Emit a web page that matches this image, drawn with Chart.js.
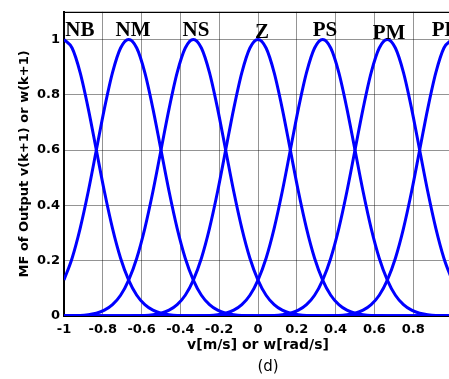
<!DOCTYPE html>
<html>
<head>
<meta charset="utf-8">
<script src="https://cdn.jsdelivr.net/npm/chart.js@4/dist/chart.umd.min.js"></script>
<style>
html,body{margin:0;padding:0;background:#fff;overflow:hidden;}
canvas{display:block;}
</style>
</head>
<body>
<canvas id="c" width="460" height="379"></canvas>
<script>
// x sample positions (v or w)
const xValues = [-1,-0.9583,-0.9167,-0.875,-0.8333,-0.7917,-0.75,-0.7083,-0.6667,-0.625,-0.5833,-0.5417,-0.5,-0.4583,-0.4167,-0.375,-0.3333,-0.2917,-0.25,-0.2083,-0.1667,-0.125,-0.0833,-0.0417,0,
  0.0417,0.0833,0.125,0.1667,0.2083,0.25,0.2917,0.3333,0.375,0.4167,0.4583,0.5,0.5417,0.5833,0.625,0.6667,0.7083,0.75,0.7917,0.8333,0.875,0.9167,0.9583,1];

// membership function values
const mfNB = [1,0.969,0.88,0.75,0.6,0.45,0.317,0.209,0.13,0.075,0.041,0.021,0.01,0.005,0.002,0.001,
  0,0,0,0,0,0,0,0,0,0,0,0,0,0,0,0,0,0,0,0,0,0,0,0,0,0,0,0,0,0,0,0,0];
const mfNM = [0.13,0.209,0.317,0.45,0.6,0.75,0.88,0.969,1,
  0.969,0.88,0.75,0.6,0.45,0.317,0.209,0.13,0.075,0.041,0.021,0.01,0.005,0.002,0.001,
  0,0,0,0,0,0,0,0,0,0,0,0,0,0,0,0,0,0,0,0,0,0,0,0,0];
const mfNS = [0,0.001,0.002,0.005,0.01,0.021,0.041,0.075,0.13,0.209,0.317,0.45,0.6,0.75,0.88,0.969,1,
  0.969,0.88,0.75,0.6,0.45,0.317,0.209,0.13,0.075,0.041,0.021,0.01,0.005,0.002,0.001,
  0,0,0,0,0,0,0,0,0,0,0,0,0,0,0,0,0];
const mfZ = [0,0,0,0,0,0,0,0,0,
  0.001,0.002,0.005,0.01,0.021,0.041,0.075,0.13,0.209,0.317,0.45,0.6,0.75,0.88,0.969,1,
  0.969,0.88,0.75,0.6,0.45,0.317,0.209,0.13,0.075,0.041,0.021,0.01,0.005,0.002,0.001,
  0,0,0,0,0,0,0,0,0];
const mfPS = [0,0,0,0,0,0,0,0,0,0,0,0,0,0,0,0,0,
  0.001,0.002,0.005,0.01,0.021,0.041,0.075,0.13,0.209,0.317,0.45,0.6,0.75,0.88,0.969,1,
  0.969,0.88,0.75,0.6,0.45,0.317,0.209,0.13,0.075,0.041,0.021,0.01,0.005,0.002,0.001,0];
const mfPM = [0,0,0,0,0,0,0,0,0,0,0,0,0,0,0,0,0,0,0,0,0,0,0,0,0,
  0.001,0.002,0.005,0.01,0.021,0.041,0.075,0.13,0.209,0.317,0.45,0.6,0.75,0.88,0.969,1,
  0.969,0.88,0.75,0.6,0.45,0.317,0.209,0.13];
const mfPB = [0,0,0,0,0,0,0,0,0,0,0,0,0,0,0,0,0,0,0,0,0,0,0,0,0,0,0,0,0,0,0,0,0,
  0.001,0.002,0.005,0.01,0.021,0.041,0.075,0.13,0.209,0.317,0.45,0.6,0.75,0.88,0.969,1];

const seriesNames = ['NB','NM','NS','Z','PS','PM','PB'];
const seriesValues = [mfNB, mfNM, mfNS, mfZ, mfPS, mfPM, mfPB];
// label anchor points (data coords)
const labelX = [-0.918, -0.644, -0.32, 0.02, 0.345, 0.675, 0.965];
const labelY = [1.014, 1.014, 1.014, 1.007, 1.014, 1.0, 1.014];

const datasets = seriesValues.map((vals, i) => ({
  label: seriesNames[i],
  data: vals.map((v, j) => ({x: xValues[j], y: v})),
  borderColor: '#0000ff',
  borderWidth: 3,
  pointRadius: 0,
  fill: false,
  cubicInterpolationMode: 'monotone'
}));

const labelsPlugin = {
  id: 'mfLabels',
  afterDraw(chart) {
    const {ctx, chartArea, scales} = chart;
    ctx.save();
    // top border
    ctx.strokeStyle = '#000';
    ctx.lineWidth = 1.2;
    ctx.beginPath();
    ctx.moveTo(chartArea.left, chartArea.top + 0.5);
    ctx.lineTo(chartArea.right, chartArea.top + 0.5);
    ctx.stroke();
    // MF names
    ctx.fillStyle = '#000';
    ctx.font = 'bold 21px "Liberation Serif", "Times New Roman", serif';
    ctx.textAlign = 'center';
    ctx.textBaseline = 'alphabetic';
    seriesNames.forEach((n, i) => {
      ctx.fillText(n, scales.x.getPixelForValue(labelX[i]), scales.y.getPixelForValue(labelY[i]));
    });
    // subfigure caption
    ctx.font = '15px "DejaVu Sans", sans-serif';
    ctx.textBaseline = 'middle';
    ctx.fillText('(d)', (chartArea.left + chartArea.right) / 2 + 10, chart.height - 12);
    ctx.restore();
  }
};

new Chart(document.getElementById('c'), {
  type: 'line',
  data: {datasets},
  plugins: [labelsPlugin],
  options: {
    responsive: false,
    devicePixelRatio: 1,
    animation: false,
    layout: {padding: {top: 9, right: 8, left: 0, bottom: 0}},
    plugins: {legend: {display: false}, tooltip: {enabled: false}},
    scales: {
      x: {
        type: 'linear',
        min: -1, max: 1,
        afterFit(s) { s.height = 63; },
        grid: {color: 'rgba(0,0,0,0.42)', lineWidth: 1, drawTicks: false},
        border: {display: true, color: '#000', width: 1},
        ticks: {
          stepSize: 0.2, padding: 6, color: '#000',
          font: {family: '"DejaVu Sans", sans-serif', weight: 'bold', size: 13},
          callback: (v) => (v >= 0.999 ? '' : String(Math.round(v * 10) / 10)),
          maxRotation: 0
        },
        title: {
          display: true, text: 'v[m/s] or w[rad/s]', color: '#000',
          font: {family: '"DejaVu Sans", sans-serif', weight: 'bold', size: 14},
          padding: {top: 0, bottom: 25}
        }
      },
      y: {
        min: 0, max: 1.1,
        afterFit(s) { s.width = 64; },
        grid: {color: 'rgba(0,0,0,0.42)', lineWidth: 1, drawTicks: false},
        border: {display: true, color: '#000', width: 2},
        ticks: {
          stepSize: 0.2, padding: 4, color: '#000', includeBounds: false,
          font: {family: '"DejaVu Sans", sans-serif', weight: 'bold', size: 13},
          callback: (v) => String(Math.round(v * 10) / 10)
        },
        title: {
          display: true, text: 'MF of Output v(k+1) or w(k+1)', color: '#000',
          font: {family: '"DejaVu Sans", sans-serif', weight: 'bold', size: 13},
          padding: {top: 17, bottom: 0}
        }
      }
    }
  }
});
</script>
</body>
</html>
